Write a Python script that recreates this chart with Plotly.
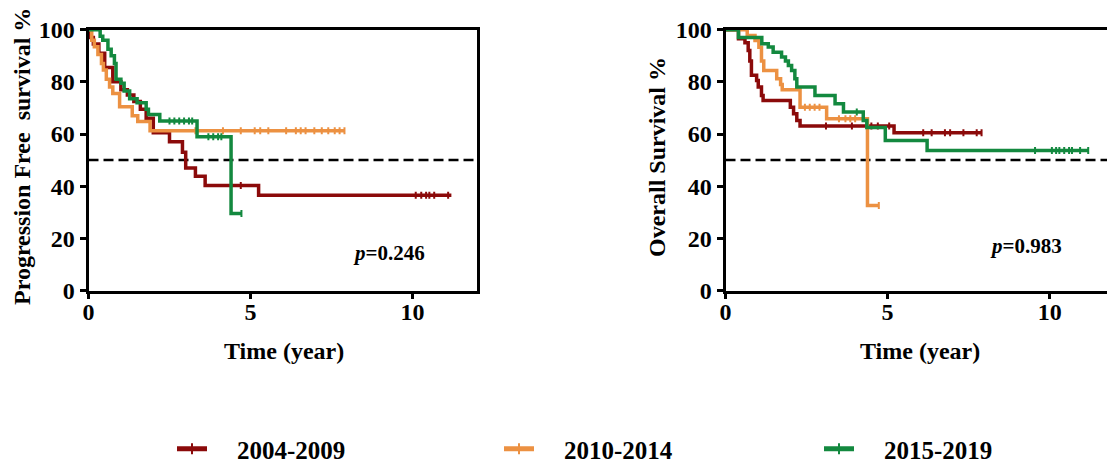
import numpy as np
import plotly.graph_objects as go

W, H = 1107, 466

GROUPS = ["2004-2009", "2010-2014", "2015-2019"]
COLORS = ["#8B0A0A", "#EC9142", "#13893F"]
MEDIAN_LEVEL = 50
P_PFS = "<i>p</i>=0.246"
P_OS = "<i>p</i>=0.983"

# ---- Progression free survival (left panel) ----
PFS_RED_T = [0.03, 0.15, 0.32, 0.5, 0.75, 1.0, 1.2, 1.4, 1.6, 1.78, 2.0, 2.5, 2.9, 3.0, 3.3, 3.6, 5.25]
PFS_RED_S = [97, 94.5, 91, 85.5, 80, 77, 75, 72.5, 69.5, 66, 60.5, 57, 53, 47, 43.8, 40.3, 36.5]
PFS_RED_END = 11.2
PFS_RED_CENS = [4.7, 10.1, 10.27, 10.42, 10.52, 10.67, 11.1]

PFS_ORA_T = [0.1, 0.18, 0.29, 0.4, 0.46, 0.55, 0.65, 0.75, 0.96, 1.35, 1.52, 1.9]
PFS_ORA_S = [96, 93.5, 90.5, 87, 84.5, 81, 78, 75.5, 70.5, 67, 64.8, 61.3]
PFS_ORA_END = 7.9
PFS_ORA_CENS = [3.3, 4.15, 4.7, 5.13, 5.3, 5.55, 6.1, 6.4, 6.55, 6.7, 6.97, 7.2, 7.4, 7.6, 7.75, 7.9]

PFS_GRN_T = [0.36, 0.44, 0.6, 0.7, 0.8, 0.85, 1.0, 1.1, 1.27, 1.5, 1.78, 1.85, 2.2, 3.35, 4.4]
PFS_GRN_S = [97.5, 96, 92.5, 90, 87, 81, 79.5, 76.5, 73.5, 72, 69.5, 67.5, 65, 59, 29.5]
PFS_GRN_END = 4.72
PFS_GRN_CENS = [2.5, 2.65, 2.8, 2.95, 3.1, 3.2, 3.7, 3.85, 4.0, 4.1, 4.72]

# ---- Overall survival (right panel) ----
OS_RED_T = [0.4, 0.6, 0.7, 0.75, 0.8, 0.96, 1.01, 1.11, 1.16, 2.0, 2.1, 2.2, 2.3, 5.2]
OS_RED_S = [96.5, 95, 92, 88, 82.5, 80.5, 78, 74.8, 72.9, 70.3, 67.8, 65.2, 63.1, 60.5]
OS_RED_END = 7.9
OS_RED_CENS = [3.1, 3.9, 4.5, 4.7, 5.05, 6.1, 6.36, 6.77, 6.93, 7.34, 7.75, 7.9]

OS_ORA_T = [0.67, 0.91, 1.03, 1.11, 1.18, 1.58, 1.7, 1.75, 2.3, 3.12, 4.38]
OS_ORA_S = [97.8, 95.9, 93.3, 88, 84.4, 81.2, 79, 77, 70.3, 65.9, 32.6]
OS_ORA_END = 4.73
OS_ORA_CENS = [2.45, 2.6, 2.75, 2.9, 3.5, 3.7, 3.85, 4.0, 4.73]

OS_GRN_T = [0.4, 1.12, 1.32, 1.47, 1.73, 1.85, 1.94, 2.04, 2.14, 2.2, 2.76, 3.38, 3.64, 4.25, 4.36, 4.93, 6.22]
OS_GRN_S = [97, 94.6, 93.4, 91.4, 89.5, 88, 86.3, 84.4, 81.2, 78, 74.8, 71.6, 68.4, 65.2, 62.5, 57.5, 53.7]
OS_GRN_END = 11.2
OS_GRN_CENS = [4.05, 9.55, 10.07, 10.2, 10.3, 10.45, 10.6, 10.69, 10.94, 11.19]

PANELS = [
    ("x", "y", [(PFS_RED_T, PFS_RED_S, PFS_RED_END, PFS_RED_CENS),
                (PFS_ORA_T, PFS_ORA_S, PFS_ORA_END, PFS_ORA_CENS),
                (PFS_GRN_T, PFS_GRN_S, PFS_GRN_END, PFS_GRN_CENS)], 12.0),
    ("x2", "y2", [(OS_RED_T, OS_RED_S, OS_RED_END, OS_RED_CENS),
                  (OS_ORA_T, OS_ORA_S, OS_ORA_END, OS_ORA_CENS),
                  (OS_GRN_T, OS_GRN_S, OS_GRN_END, OS_GRN_CENS)], 11.77),
]

FONT = "Liberation Serif"
NBSP = "\u00a0"

fig = go.Figure()

for xa, ya, series, xmax in PANELS:
    fig.add_trace(go.Scatter(x=[0, xmax], y=[MEDIAN_LEVEL, MEDIAN_LEVEL], mode="lines",
                             line=dict(color="black", width=2.5, dash="10px,5px"),
                             xaxis=xa, yaxis=ya, showlegend=False, hoverinfo="skip"))
    for (ts, ss, end, cens), col in zip(series, COLORS):
        xs = [0] + list(ts) + [end]
        ys = [100] + list(ss) + [ss[-1]]
        fig.add_trace(go.Scatter(x=xs, y=ys, mode="lines", line=dict(color=col, width=3.5, shape="hv"),
                                 xaxis=xa, yaxis=ya, showlegend=False))
        ta = np.array(ts)
        sa = np.array([100] + list(ss))
        cy = sa[np.searchsorted(ta, np.array(cens), side="right")]
        fig.add_trace(go.Scatter(x=cens, y=cy, mode="markers",
                                 marker=dict(symbol="line-ns", size=5, color=col,
                                             line=dict(color=col, width=2)),
                                 xaxis=xa, yaxis=ya, showlegend=False, hoverinfo="skip"))

LEGEND_LINE_X = [178, 505, 825]
legend_cfgs = {}
for i, (name, col, lx) in enumerate(zip(GROUPS, COLORS, LEGEND_LINE_X)):
    key = "legend" if i == 0 else f"legend{i + 1}"
    fig.add_trace(go.Scatter(x=[None], y=[None], mode="lines+markers", name=NBSP * 4 + name,
                             line=dict(color=col, width=5),
                             marker=dict(symbol="line-ns", size=8, color=col,
                                         line=dict(color=col, width=2)),
                             xaxis="x", yaxis="y", legend=key))
    legend_cfgs[key] = dict(orientation="h", x=(lx - 6) / W, xanchor="left", y=1 - 449 / H,
                            yanchor="middle", font=dict(family=FONT, size=25, color="black", weight="bold"),
                            bgcolor="rgba(0,0,0,0)", itemwidth=30)

ydom = [1 - 290.5 / H, 1 - 29.7 / H]
axis_common = dict(showgrid=False, zeroline=False, showline=True, linecolor="black", linewidth=2.8,
                   ticks="outside", ticklen=6, tickwidth=2.5, tickcolor="black", automargin=False,
                   tickfont=dict(family=FONT, size=24, color="black", weight="bold"))

fig.update_layout(
    width=W, height=H, margin=dict(l=0, r=0, t=0, b=0, autoexpand=False),
    paper_bgcolor="white", plot_bgcolor="white",
    font=dict(family=FONT, color="black"),
    xaxis=dict(domain=[88.5 / W, 477.3 / W], range=[0, 12], tickvals=[0, 5, 10], mirror=True,
               anchor="y", ticklabelstandoff=-8, **axis_common),
    yaxis=dict(domain=ydom, range=[0, 100], tickvals=[0, 20, 40, 60, 80, 100], mirror=True,
               anchor="x", **axis_common),
    xaxis2=dict(domain=[725.5 / W, 1.0], range=[0, 11.77], tickvals=[0, 5, 10], mirror=True,
                anchor="y2", ticklabelstandoff=-8, **axis_common),
    yaxis2=dict(domain=ydom, range=[0, 100], tickvals=[0, 20, 40, 60, 80, 100], mirror=False,
                anchor="x2", **axis_common),
    showlegend=True,
    **legend_cfgs,
)

ann_font = dict(family=FONT, size=24, color="black", weight="bold")
annots = [
    dict(text="Progression Free" + NBSP + " survival %", x=22 / W, y=1 - 157 / H, textangle=-90),
    dict(text="Overall Survival %", x=657 / W, y=1 - 157 / H, textangle=-90),
    dict(text="Time (year)", x=283.5 / W, y=1 - 351 / H),
    dict(text="Time (year)", x=920 / W, y=1 - 351 / H),
    dict(text=P_PFS, x=389 / W, y=1 - 253 / H, size=21),
    dict(text=P_OS, x=1026 / W, y=1 - 246 / H, size=21),
]
for a in annots:
    sz = a.pop("size", 24)
    f = dict(ann_font)
    f["size"] = sz
    fig.add_annotation(xref="paper", yref="paper", xanchor="center", yanchor="middle",
                       showarrow=False, font=f, **a)

fig.write_html("out.html")
